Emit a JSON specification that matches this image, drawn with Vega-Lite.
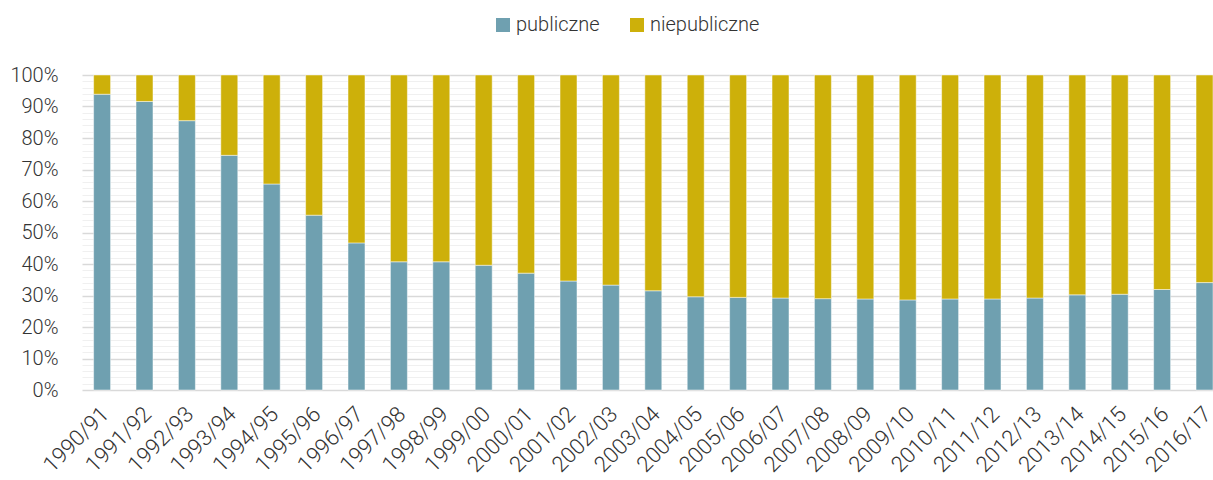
{
  "$schema": "https://vega.github.io/schema/vega-lite/v6.json",
  "width": 1131,
  "height": 315,
  "autosize": {"type": "none"},
  "padding": {"left": 82, "top": 75, "right": 0, "bottom": 90},
  "background": "#ffffff",
  "config": {
    "font": "Roboto",
    "view": {"stroke": null},
    "axis": {"labelFont": "Roboto", "labelFontWeight": 300, "labelColor": "#333333"},
    "legend": {"labelFont": "Roboto", "labelFontWeight": 300, "labelColor": "#333333"}
  },
  "data": {
    "values": [
      {"rok": "1990/91", "publiczne": 93.9, "niepubliczne": 6.1},
      {"rok": "1991/92", "publiczne": 91.6, "niepubliczne": 8.4},
      {"rok": "1992/93", "publiczne": 85.5, "niepubliczne": 14.5},
      {"rok": "1993/94", "publiczne": 74.5, "niepubliczne": 25.5},
      {"rok": "1994/95", "publiczne": 65.4, "niepubliczne": 34.6},
      {"rok": "1995/96", "publiczne": 55.5, "niepubliczne": 44.5},
      {"rok": "1996/97", "publiczne": 46.7, "niepubliczne": 53.3},
      {"rok": "1997/98", "publiczne": 40.7, "niepubliczne": 59.3},
      {"rok": "1998/99", "publiczne": 40.7, "niepubliczne": 59.3},
      {"rok": "1999/00", "publiczne": 39.6, "niepubliczne": 60.4},
      {"rok": "2000/01", "publiczne": 37.1, "niepubliczne": 62.9},
      {"rok": "2001/02", "publiczne": 34.6, "niepubliczne": 65.4},
      {"rok": "2002/03", "publiczne": 33.3, "niepubliczne": 66.7},
      {"rok": "2003/04", "publiczne": 31.5, "niepubliczne": 68.5},
      {"rok": "2004/05", "publiczne": 29.6, "niepubliczne": 70.4},
      {"rok": "2005/06", "publiczne": 29.4, "niepubliczne": 70.6},
      {"rok": "2006/07", "publiczne": 29.2, "niepubliczne": 70.8},
      {"rok": "2007/08", "publiczne": 29.0, "niepubliczne": 71.0},
      {"rok": "2008/09", "publiczne": 28.9, "niepubliczne": 71.1},
      {"rok": "2009/10", "publiczne": 28.6, "niepubliczne": 71.4},
      {"rok": "2010/11", "publiczne": 28.9, "niepubliczne": 71.1},
      {"rok": "2011/12", "publiczne": 28.9, "niepubliczne": 71.1},
      {"rok": "2012/13", "publiczne": 29.2, "niepubliczne": 70.8},
      {"rok": "2013/14", "publiczne": 30.2, "niepubliczne": 69.8},
      {"rok": "2014/15", "publiczne": 30.4, "niepubliczne": 69.6},
      {"rok": "2015/16", "publiczne": 31.9, "niepubliczne": 68.1},
      {"rok": "2016/17", "publiczne": 34.1, "niepubliczne": 65.9}
    ]
  },
  "transform": [
    {"fold": ["publiczne", "niepubliczne"], "as": ["typ", "udzial"]}
  ],
  "mark": {"type": "bar", "stroke": "#ffffff", "strokeWidth": 0.8, "strokeOpacity": 0.6},
  "encoding": {
    "x": {
      "field": "rok",
      "type": "nominal",
      "sort": null,
      "scale": {"paddingInner": 0.6, "paddingOuter": 0.137, "align": 1},
      "axis": {
        "title": null,
        "labelAngle": -45,
        "labelFontSize": 22,
        "ticks": false,
        "domain": false,
        "labelPadding": 13,
        "labelOffset": -4,
        "labelAlign": "right",
        "labelBaseline": "top"
      }
    },
    "y": {
      "field": "udzial",
      "type": "quantitative",
      "stack": "normalize",
      "scale": {"domain": [0, 1], "nice": false},
      "axis": {
        "title": null,
        "format": ".0%",
        "values": [0, 0.02, 0.04, 0.06, 0.08, 0.1, 0.12, 0.14, 0.16, 0.18, 0.2, 0.22, 0.24, 0.26, 0.28, 0.3, 0.32, 0.34, 0.36, 0.38, 0.4, 0.42, 0.44, 0.46, 0.48, 0.5, 0.52, 0.54, 0.56, 0.58, 0.6, 0.62, 0.64, 0.66, 0.68, 0.7, 0.72, 0.74, 0.76, 0.78, 0.8, 0.82, 0.84, 0.86, 0.88, 0.9, 0.92, 0.94, 0.96, 0.98, 1],
        "labelExpr": "round(datum.value * 100) % 10 === 0 ? datum.label : ''",
        "labelFontSize": 20,
        "labelPadding": 24,
        "ticks": false,
        "domain": false,
        "grid": true,
        "gridColor": {"condition": {"test": "round(datum.value * 100) % 10 === 0", "value": "#d9d9d9"}, "value": "#f0f0f0"},
        "gridWidth": {"condition": {"test": "round(datum.value * 100) % 10 === 0", "value": 1.5}, "value": 1}
      }
    },
    "color": {
      "field": "typ",
      "type": "nominal",
      "sort": ["publiczne", "niepubliczne"],
      "scale": {"domain": ["publiczne", "niepubliczne"], "range": ["#6fa0b0", "#cdb00a"]},
      "legend": {
        "title": null,
        "orient": "none",
        "direction": "horizontal",
        "legendX": 411,
        "legendY": -60,
        "padding": 0,
        "symbolType": "square",
        "symbolSize": 196,
        "symbolStrokeWidth": 0,
        "labelFontSize": 20,
        "labelOffset": 3,
        "columnPadding": 27
      }
    },
    "order": {"field": "typ", "sort": "descending"}
  }
}
